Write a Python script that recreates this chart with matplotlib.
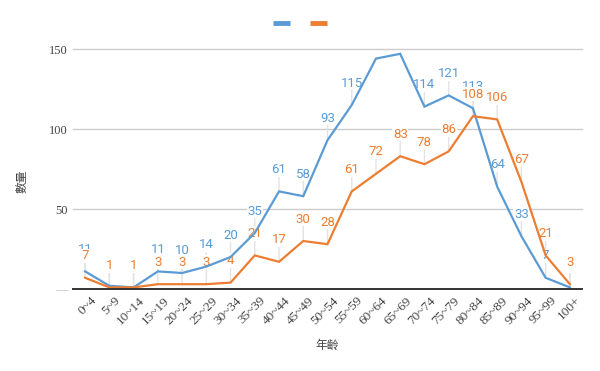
import matplotlib
matplotlib.use("Agg")
import matplotlib.pyplot as plt
from matplotlib.lines import Line2D
import matplotlib.transforms as mtransforms

categories = ["0~4", "5~9", "10~14", "15~19", "20~24", "25~29", "30~34", "35~39",
              "40~44", "45~49", "50~54", "55~59", "60~64", "65~69", "70~74", "75~79",
              "80~84", "85~89", "90~94", "95~99", "100+"]
series_blue = [11, 2, 1, 11, 10, 14, 20, 35, 61, 58, 93, 115, 144, 147, 114, 121, 113, 64, 33, 7, 1]
series_orange = [7, 1, 1, 3, 3, 3, 4, 21, 17, 30, 28, 61, 72, 83, 78, 86, 108, 106, 67, 21, 3]
y_ticks = [0, 50, 100, 150]
y_ticklabels = ["—", "50", "100", "150"]
x_title = "年齡"
y_title = "數量"

BLUE = "#5B9BD5"
ORANGE = "#ED7D31"

fig = plt.figure(figsize=(6.0, 3.71), dpi=100)
W, H = 600, 371
left, right, top, bottom = 73, 582, 49, 289
ax = fig.add_axes([left / W, 1 - bottom / H, (right - left) / W, (bottom - top) / H])

x = list(range(len(categories)))
ax.set_xlim(-0.5, len(categories) - 0.5)
ax.set_ylim(0, 150)

for s in ["left", "right", "top"]:
    ax.spines[s].set_visible(False)
ax.spines["bottom"].set_color("#333333")
ax.spines["bottom"].set_linewidth(1.4)
ax.spines["bottom"].set_zorder(6)

ax.set_yticks(y_ticks)
ax.set_yticklabels(y_ticklabels, family=["Liberation Serif"], fontsize=9, color="#444444")
ax.get_yticklabels()[0].set_color("#bbbbbb")
ax.tick_params(axis="y", length=0, pad=4)
for yt in y_ticks[1:]:
    ax.axhline(yt, color="#cccccc", lw=1.0, zorder=0, clip_on=False)

ax.set_xticks(x)
ax.set_xticklabels(categories, rotation=45, ha="right", rotation_mode="anchor",
                   family=["Liberation Serif"], fontsize=9.5, color="#444444")
ax.tick_params(axis="x", length=0, pad=4)
offset = mtransforms.ScaledTranslation(5 / 100, 0, fig.dpi_scale_trans)
for lbl in ax.get_xticklabels():
    lbl.set_transform(lbl.get_transform() + offset)

ax.plot(x, series_blue, color=BLUE, lw=1.6, zorder=5, solid_joinstyle="miter")
ax.plot(x, series_orange, color=ORANGE, lw=1.6, zorder=5, solid_joinstyle="miter")

# data labels with leader lines (label centre ~22 px above the point)
px2pt = 72 / 100
lab_off = 22 * px2pt
lead_top = 16 * px2pt
ymax_px = bottom - top

def add_labels(vals, color, z):
    for xi, v in zip(x, vals):
        ypix = v / 150 * ymax_px
        if ypix + 22 > ymax_px - 2:
            continue
        ax.annotate("", xy=(xi, v), xytext=(0, lead_top), textcoords="offset points",
                    arrowprops=dict(arrowstyle="-", color="#e3e3e3", lw=1.0,
                                    shrinkA=0, shrinkB=0), zorder=1)
        ax.annotate(str(v), xy=(xi, v), xytext=(0, lab_off), textcoords="offset points",
                    ha="center", va="center", color=color, fontsize=9.5,
                    family=["Roboto"], zorder=z,
                    bbox=dict(boxstyle="square,pad=0.05", fc="white", ec="none"))

add_labels(series_blue, BLUE, 2)
add_labels(series_orange, ORANGE, 3)

ax.set_xlabel(x_title, family=["Noto Sans CJK TC"], fontsize=8.5, color="#444444")
ax.xaxis.set_label_coords(0.5, (bottom - 345) / (bottom - top))
ax.xaxis.label.set_va("center")
ax.set_ylabel(y_title, family=["Noto Sans CJK TC"], fontsize=8.5, color="#444444")
ax.yaxis.set_label_coords((22 - left) / (right - left), (bottom - 181) / (bottom - top))
ax.yaxis.label.set_va("center")

handles = [Line2D([], [], color=BLUE, lw=3.5, solid_capstyle="butt"),
           Line2D([], [], color=ORANGE, lw=3.5, solid_capstyle="butt")]
fig.legend(handles, ["", ""], loc="center", bbox_to_anchor=(300 / W, 1 - 24 / H),
           ncol=2, frameon=False, handlelength=1.0, handletextpad=0.0,
           columnspacing=1.2, fontsize=12)

fig.savefig("out.png", dpi=100, facecolor="white")
